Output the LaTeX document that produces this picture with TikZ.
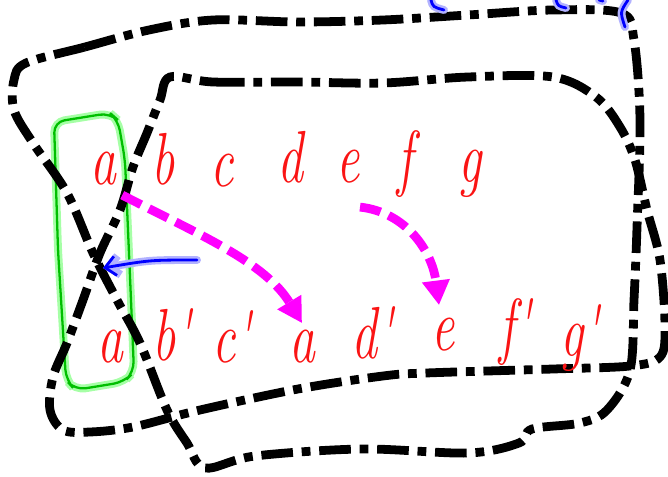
\documentclass[tikz,border=0pt]{standalone}
\usepackage{graphicx}
\usetikzlibrary{arrows.meta}
\definecolor{mag}{RGB}{255,0,255}
\definecolor{hand}{RGB}{250,20,20}
\newcommand{\hw}[1]{\scalebox{0.7}[1]{#1}}
\tikzset{
  blob/.style={line width=5pt, dash pattern=on 18pt off 5pt on 5pt off 5pt},
  letter/.style={text=hand, font=\fontsize{42}{42}\selectfont\itshape, anchor=base, inner sep=0pt},
  move/.style={mag, line width=5pt, dash pattern=on 12pt off 5pt,
    -{Triangle[length=14pt,width=15pt]}},
  pen/.style={blue, line width=1.6pt, line cap=round,
    preaction={draw, blue!30, line width=4.5pt, line cap=round}},
  marker/.style={green!75!black, line width=1.3pt, rounded corners=6pt,
    preaction={draw, green!35, line width=4.5pt, rounded corners=6pt}}
}
\begin{document}
\begin{tikzpicture}[x=0.02cm,y=-0.02cm]
  \useasboundingbox (0,0) rectangle (668,476);
  % green box round the two a's
  \draw[marker] (54,122) -- (110,113) -- (118,120) -- (125,160) -- (131,300)
    -- (134,372) -- (124,382) -- (75,390) -- (66,380) -- (58,250) -- cycle;
  % big loop
  \draw[blob] plot[smooth cycle, tension=0.55] coordinates {
    (26,63) (85,47) (149,30) (213,20) (298,22) (383,20) (468,15) (553,10)
    (621,13) (634,40) (640,120) (637,227) (634,300) (630,370) (607,410)
    (580,423) (532,429) (519,443) (468,453) (362,449) (255,456) (205,468)
    (187,443) (167,410) (140,343) (117,300) (93,253) (67,193)
    (33,143) (14,110) (14,80)};
  % inner loop
  \draw[blob] plot[smooth cycle, tension=0.55] coordinates {
    (170,77) (213,82) (298,82) (383,83) (468,77) (553,77) (596,97) (620,127)
    (635,160) (647,210) (660,260) (665,327) (660,357) (630,366)
    (553,369) (426,373) (383,376) (298,389) (200,410) (133,427) (90,432)
    (63,430) (50,410) (53,377) (67,343) (83,300) (100,253) (120,210)
    (133,167) (147,133) (160,100)};
  % top row
  \node[letter] (ta) at (103,184) {\hw{a}};
  \node[letter] (tb) at (163,184) {\hw{b}};
  \node[letter] (tc) at (222,186) {\hw{c}};
  \node[letter] (td) at (290,182) {\hw{d}};
  \node[letter] (te) at (348,182) {\hw{e}};
  \node[letter] (tf) at (405,182) {\hw{f}};
  \node[letter] (tg) at (470,182) {\hw{g}};
  % bottom row
  \node[letter] (ba) at (110,362) {\hw{a}};
  \node[letter] (bb) at (172,360) {\hw{b\textquotesingle}};
  \node[letter] (bc) at (232,362) {\hw{c\textquotesingle}};
  \node[letter] (bx) at (302,362) {\hw{a}};
  \node[letter] (bd) at (372,358) {\hw{d\textquotesingle}};
  \node[letter] (be) at (443,350) {\hw{e}};
  \node[letter] (bf) at (515,350) {\hw{f\textquotesingle}};
  \node[letter] (bg) at (580,356) {\hw{g\textquotesingle}};
  % moves
  \coordinate (from1) at ([shift={(6,10)}]ta.south east);
  \coordinate (from2) at ([shift={(12,24)}]te.south);
  \draw[move] (from1) .. controls (200,235) and (265,262) .. ([shift={(0,-6)}]bx.north);
  \draw[move] (from2) .. controls (405,212) and (432,250) .. ([shift={(-4,-12)}]be.north);
  % blue pointer
  \coordinate (ptr) at (197,260);
  \coordinate (hit) at (103,268);
  \draw[pen, -{Straight Barb[length=6pt,width=11pt]}] (ptr) .. controls (150,260) .. (hit);
  % blue scraps at the top edge
  \draw[pen] (431,0) .. controls (433,7) .. (444,10);
  \draw[pen] (556,0) .. controls (558,6) .. (566,8);
  \draw[pen] (599,0) -- (603,1);
  \draw[pen] (628,0) .. controls (620,12) .. (625,27);
\end{tikzpicture}
\end{document}
